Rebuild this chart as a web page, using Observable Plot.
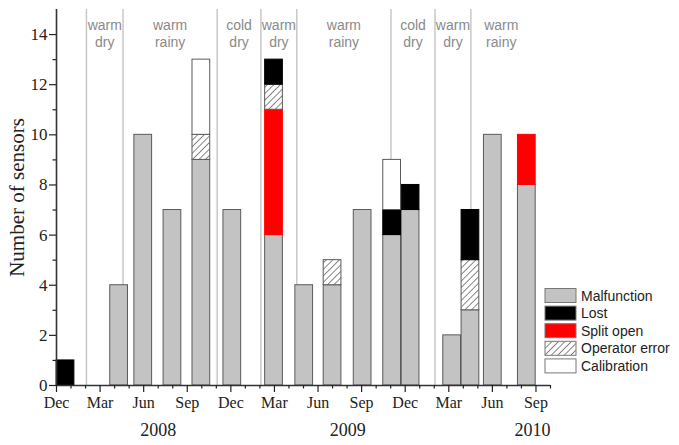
<!DOCTYPE html>
<html>
<head>
<meta charset="utf-8">
<script src="https://cdn.jsdelivr.net/npm/d3@7"></script>
<script src="https://cdn.jsdelivr.net/npm/@observablehq/plot@0.6"></script>
<style>
  html, body { margin: 0; padding: 0; background: white; }
  #wrap { position: relative; width: 679px; height: 445px; overflow: hidden; }
  #legend { position: absolute; left: 0; top: 0; pointer-events: none; }
</style>
</head>
<body>
<svg width="0" height="0" style="position:absolute">
  <defs>
    <pattern id="hatch" patternUnits="userSpaceOnUse" width="4.6" height="4.6" patternTransform="rotate(45)">
      <rect width="4.6" height="4.6" fill="white"></rect>
      <line x1="0" y1="0" x2="0" y2="4.6" stroke="#111" stroke-width="1"></line>
    </pattern>
  </defs>
</svg>
<div id="wrap"></div>
<script>
// ---- data (x in months since Dec 2007) ----
const barMonths = [0.62, 4.31, 5.97, 7.98, 9.97, 12.1, 14.97, 17.05, 19.0, 21.07, 23.1, 24.37, 27.23, 28.49, 30.03, 32.37];
const malfunction   = [0, 4, 10, 7, 9, 7, 6, 4, 4, 7, 6, 7, 2, 3, 10, 8];
const splitOpen     = [0, 0, 0, 0, 0, 0, 5, 0, 0, 0, 0, 0, 0, 0, 0, 2];
const operatorError = [0, 0, 0, 0, 1, 0, 1, 0, 1, 0, 0, 0, 0, 2, 0, 0];
const lost          = [1, 0, 0, 0, 0, 0, 1, 0, 0, 0, 1, 1, 0, 2, 0, 0];
const calibration   = [0, 0, 0, 0, 3, 0, 0, 0, 0, 0, 2, 0, 0, 0, 0, 0];

const tickMonths = [0, 3, 6, 9, 12, 15, 18, 21, 24, 27, 30, 33];
const tickLabels = ["Dec", "Mar", "Jun", "Sep", "Dec", "Mar", "Jun", "Sep", "Dec", "Mar", "Jun", "Sep"];
const yearLabels = ["2008", "2009", "2010"];
const yearMonths = [7, 20.05, 32.76];
const yTicks = [0, 2, 4, 6, 8, 10, 12, 14];

const seasonNames  = ["warm\ndry", "warm\nrainy", "cold\ndry", "warm\ndry", "warm\nrainy", "cold\ndry", "warm\ndry", "warm\nrainy"];
const seasonBounds = [2.06, 4.58, 11.06, 14.07, 16.54, 23.02, 26.05, 28.52, 32.7];

// stacking order bottom -> top
const categories = ["Malfunction", "Split open", "Operator error", "Lost", "Calibration"];
const legendOrder = ["Malfunction", "Lost", "Split open", "Operator error", "Calibration"];
const seriesValues = {
  "Malfunction": malfunction,
  "Split open": splitOpen,
  "Operator error": operatorError,
  "Lost": lost,
  "Calibration": calibration
};
const fills = {
  "Malfunction": "#c3c3c3",
  "Lost": "#000000",
  "Split open": "#ff0000",
  "Operator error": "url(#hatch)",
  "Calibration": "#ffffff"
};
const strokes = {
  "Malfunction": "#5a5a5a",
  "Lost": "#000000",
  "Split open": "#ff0000",
  "Operator error": "#5a5a5a",
  "Calibration": "#5a5a5a"
};

// build stacked segments
const segments = [];
barMonths.forEach((m, i) => {
  let acc = 0;
  for (const c of categories) {
    const v = seriesValues[c][i];
    if (v > 0) segments.push({ month: m, cat: c, y1: acc, y2: acc + v });
    acc += v;
  }
});

const halfW = 0.61;
const minorMonths = d3.range(0, 35).filter(m => m % 3 !== 0);
const minorY = d3.range(1, 15, 2);
const seasonMid = seasonNames.map((d, i) => (seasonBounds[i] + seasonBounds[i + 1]) / 2);

const chart = Plot.plot({
  width: 679,
  height: 445,
  marginLeft: 56,
  marginRight: 129,
  marginTop: 9,
  marginBottom: 60,
  x: { domain: [0, 34] },
  y: { domain: [0, 15] },
  style: { fontFamily: "'Liberation Serif', 'Times New Roman', serif", fontSize: "16px", color: "#222", background: "white" },
  marks: [
    Plot.ruleX(seasonBounds.slice(0, 8), { stroke: "#c8c8c8", strokeWidth: 1.5 }),
    ...categories.map(c => Plot.rectY(segments.filter(s => s.cat === c), {
      x1: d => d.month - halfW,
      x2: d => d.month + halfW,
      y1: "y1",
      y2: "y2",
      fill: fills[c],
      stroke: strokes[c],
      strokeWidth: 1
    })),
    Plot.text(seasonNames, {
      x: (d, i) => seasonMid[i],
      frameAnchor: "top",
      dy: 24,
      textAnchor: "middle",
      lineAnchor: "middle",
      lineHeight: 1.2,
      fontFamily: "'Liberation Sans', Arial, sans-serif",
      fontSize: 14,
      fill: "#8a8a8a"
    }),
    Plot.ruleY([0], { stroke: "#333", strokeWidth: 1.6 }),
    Plot.ruleX([0], { stroke: "#333", strokeWidth: 1.6 }),
    Plot.axisX({ ticks: tickMonths, tickFormat: d => tickLabels[tickMonths.indexOf(d)], tickSize: 7, tickPadding: 4, fontSize: 16, label: null, strokeWidth: 1.2 }),
    Plot.axisX({ ticks: minorMonths, tickFormat: () => "", tickSize: 3.5, label: null, strokeWidth: 1.2 }),
    Plot.axisY({ ticks: yTicks, tickSize: 7, tickPadding: 2, fontSize: 17, label: null, strokeWidth: 1.2 }),
    Plot.axisY({ ticks: minorY, tickFormat: () => "", tickSize: 3.5, label: null, strokeWidth: 1.2 }),
    Plot.text(["Number of sensors"], {
      frameAnchor: "left",
      dx: -39,
      rotate: -90,
      textAnchor: "middle",
      lineAnchor: "middle",
      fontSize: 21
    }),
    Plot.text(yearLabels, {
      x: (d, i) => yearMonths[i],
      frameAnchor: "bottom",
      dy: 45,
      textAnchor: "middle",
      lineAnchor: "middle",
      fontSize: 18
    })
  ]
});

const wrap = document.getElementById("wrap");
wrap.appendChild(chart);

// legend overlay
const leg = d3.select(wrap).append("svg")
  .attr("id", "legend")
  .attr("width", 679)
  .attr("height", 445);
const rows = leg.selectAll("g").data(legendOrder).join("g")
  .attr("transform", (d, i) => `translate(545, ${288.5 + i * 17.6})`);
rows.append("rect")
  .attr("width", 31).attr("height", 14)
  .attr("fill", d => fills[d])
  .attr("stroke", "#777")
  .attr("stroke-width", 1);
rows.append("text")
  .attr("x", 36).attr("y", 7)
  .attr("dominant-baseline", "central")
  .attr("font-family", "'Liberation Sans', Arial, sans-serif")
  .attr("font-size", 14)
  .attr("fill", "#222")
  .text(d => d);
</script>
</body>
</html>
